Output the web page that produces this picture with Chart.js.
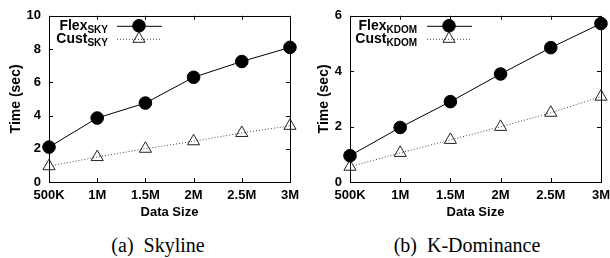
<!DOCTYPE html>
<html>
<head>
<meta charset="utf-8">
<script src="https://cdn.jsdelivr.net/npm/chart.js@4.4.1/dist/chart.umd.min.js"></script>
<style>
  body { margin: 0; background: #fff; width: 610px; height: 258px; overflow: hidden; position: relative; }
  .panel { position: absolute; top: 0; height: 222px; }
  .caption { position: absolute; top: 232px; font-family: "Liberation Serif", "Times New Roman", "DejaVu Serif", serif; font-size: 20px; white-space: pre; transform: translateX(-50%); line-height: 26px; }
</style>
</head>
<body>
<div class="panel" style="left:0;width:305px"><canvas id="chart1"></canvas></div>
<div class="panel" style="left:305px;width:311px"><canvas id="chart2"></canvas></div>
<div class="caption" style="left:158px">(a)  Skyline</div>
<div class="caption" style="left:467px">(b)  K-Dominance</div>
<script>
// data
var sizes = ["500K", "1M", "1.5M", "2M", "2.5M", "3M"];
var flexSky = [2.1, 3.85, 4.75, 6.3, 7.25, 8.1];
var custSky = [0.95, 1.5, 2.0, 2.45, 2.95, 3.38];
var flexKdom = [0.95, 1.97, 2.9, 3.9, 4.85, 5.72];
var custKdom = [0.55, 1.05, 1.52, 1.99, 2.5, 3.08];

var font = "'Liberation Sans', Arial, sans-serif";

//gnuplot style box with inward ticks
var framePlugin = {
  id: 'frame',
  beforeDatasetsDraw: function(chart) {
    var ctx = chart.ctx;
    var a = chart.chartArea;
    var xs = chart.scales.x, ys = chart.scales.y;
    ctx.save();
    ctx.strokeStyle = '#000';
    ctx.lineWidth = 1;
    ctx.strokeRect(Math.round(a.left) + 0.5, Math.round(a.top) + 0.5, Math.round(a.right - a.left), Math.round(a.bottom - a.top));
    ctx.beginPath();
    ys.ticks.forEach(function(t) {
      var y = Math.round(ys.getPixelForValue(t.value)) + 0.5;
      ctx.moveTo(a.left, y); ctx.lineTo(a.left + 4, y);
      ctx.moveTo(a.right - 4, y); ctx.lineTo(a.right, y);
    });
    sizes.forEach(function(s, i) {
      var x = Math.round(xs.getPixelForValue(i)) + 0.5;
      ctx.moveTo(x, a.bottom); ctx.lineTo(x, a.bottom - 4);
      ctx.moveTo(x, a.top); ctx.lineTo(x, a.top + 4);
    });
    ctx.stroke();
    ctx.restore();
  }
};

//legend with subscripts, drawn inside top-left
var keyPlugin = {
  id: 'key',
  afterDatasetsDraw: function(chart, args, opts) {
    var ctx = chart.ctx;
    var a = chart.chartArea;
    ctx.save();
    chart.data.datasets.forEach(function(ds, i) {
      var rowY = a.top + 10 + i * 13;
      var textRight = a.left + opts.textRight;
      ctx.fillStyle = '#000';
      ctx.textAlign = 'right';
      ctx.textBaseline = 'alphabetic';
      ctx.font = 'bold 10px ' + font;
      ctx.fillText(ds.sub, textRight, rowY + 7);
      var subW = ctx.measureText(ds.sub).width;
      ctx.font = 'bold 14px ' + font;
      ctx.fillText(ds.name, textRight - subW, rowY + 4);
      // sample line
      ctx.strokeStyle = ds.borderColor;
      ctx.lineWidth = ds.borderWidth;
      ctx.setLineDash(ds.borderDash || []);
      ctx.beginPath();
      ctx.moveTo(a.left + opts.lineStart, rowY + 0.5);
      ctx.lineTo(a.left + opts.lineStart + 45, rowY + 0.5);
      ctx.stroke();
      ctx.setLineDash([]);
      ctx.fillStyle = ds.pointBackgroundColor;
      ctx.strokeStyle = ds.pointBorderColor;
      Chart.helpers.drawPoint(ctx, {
        pointStyle: ds.pointStyle, radius: ds.pointRadius, rotation: 0, borderWidth: 1
      }, a.left + opts.lineStart + 22, rowY);
    });
    ctx.restore();
  }
};

function makeChart(id, flex, cust, sub, yMax, yAxisWidth, titlePad, keyOpts) {
  var ctx = document.getElementById(id).getContext('2d');
  return new Chart(ctx, {
    type: 'line',
    data: {
      labels: sizes,
      datasets: [{
        name: 'Flex',
        sub: sub,
        data: flex,
        borderColor: '#000',
        borderWidth: 1,
        pointStyle: 'circle',
        pointRadius: 6.3,
        pointBackgroundColor: '#000',
        pointBorderColor: '#000',
        clip: false
      }, {
        name: 'Cust',
        sub: sub,
        data: cust,
        borderColor: '#444',
        borderWidth: 1,
        borderDash: [1, 2],
        pointStyle: 'triangle',
        pointRadius: 7,
        pointBackgroundColor: 'rgba(0,0,0,0)',
        pointBorderColor: '#222',
        clip: false
      }]
    },
    options: {
      responsive: true,
      maintainAspectRatio: false,
      animation: false,
      layout: { padding: { left: 0, right: 9, top: 15, bottom: 0 } },
      plugins: {
        legend: { display: false },
        tooltip: { enabled: false },
        key: keyOpts
      },
      scales: {
        x: {
          offset: false,
          grid: { display: false, drawTicks: false },
          border: { display: false },
          ticks: { color: '#000', padding: 6, maxRotation: 0, autoSkip: false, font: { family: font, size: 13, weight: 'bold' } },
          title: { display: true, text: 'Data Size', color: '#000', padding: { top: 2, bottom: 2 }, font: { family: font, size: 13, weight: 'bold' } },
          afterFit: function(s) { s.height = 40; }
        },
        y: {
          min: 0,
          max: yMax,
          grid: { display: false, drawTicks: false },
          border: { display: false },
          ticks: { stepSize: 2, color: '#000', padding: 8, font: { family: font, size: 13, weight: 'bold' } },
          title: { display: true, text: 'Time (sec)', color: '#000', padding: { top: titlePad, bottom: 0 }, font: { family: font, size: 14, weight: 'bold' } },
          afterFit: function(s) { s.width = yAxisWidth; }
        }
      }
    },
    plugins: [framePlugin, keyPlugin]
  });
}

makeChart('chart1', flexSky, custSky, 'SKY', 10, 49, 8, { textRight: 59, lineStart: 68 });
makeChart('chart2', flexKdom, custKdom, 'KDOM', 6, 45, 11, { textRight: 67, lineStart: 77 });
</script>
</body>
</html>
